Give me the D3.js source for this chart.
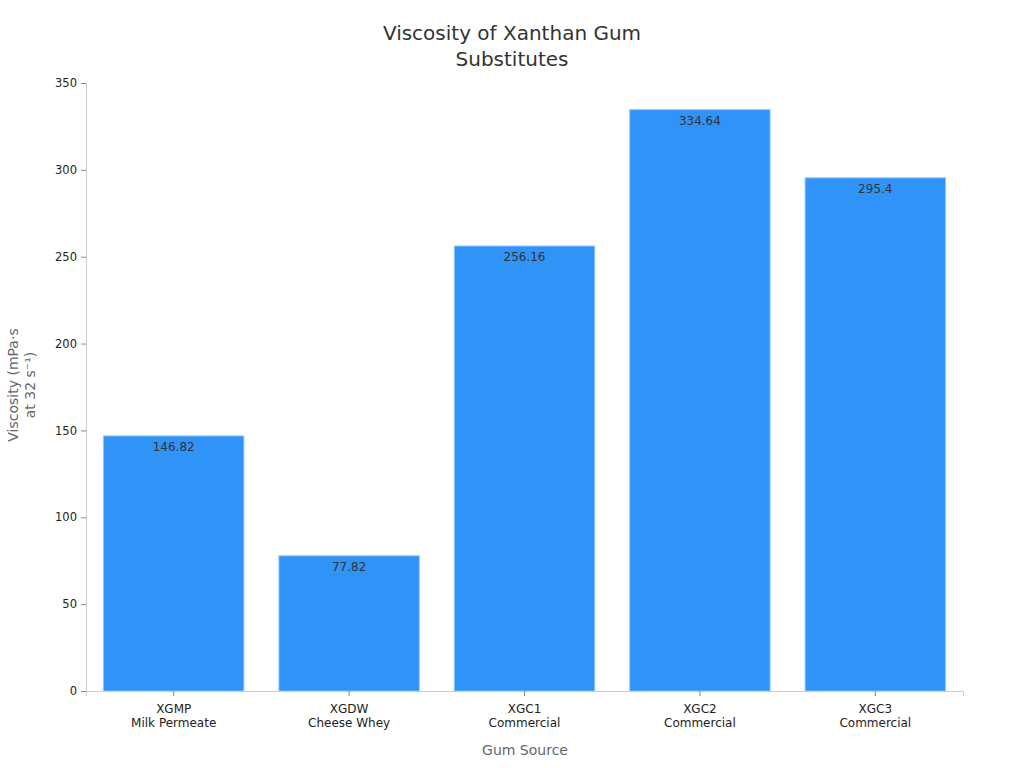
<!DOCTYPE html>
<html><head><meta charset="utf-8">
<script src="https://cdn.jsdelivr.net/npm/d3@7"></script>
<style>body{margin:0;background:#fff;font-family:"DejaVu Sans",sans-serif;}</style>
</head><body><svg id="c" width="1024" height="768"></svg>
<script>
const codes = ["XGMP","XGDW","XGC1","XGC2","XGC3"];
const sources = ["Milk Permeate","Cheese Whey","Commercial","Commercial","Commercial"];
const values = [146.82, 77.82, 256.16, 334.64, 295.4];
const yTicks = [0,50,100,150,200,250,300,350];

const svg = d3.select("#c");
const m = {l:86, r:963, t:83, b:691};
const x = d3.scaleBand().domain(codes).range([m.l, m.r]).paddingInner(0.2).paddingOuter(0.1);
const y = d3.scaleLinear().domain([0,350]).range([m.b, m.t]);

svg.append("g").selectAll("rect").data(values).join("rect")
  .attr("x",(d,i)=>x(codes[i])).attr("width",x.bandwidth())
  .attr("y",d=>y(d)).attr("height",d=>y(0)-y(d))
  .attr("fill","#2f93f8").attr("stroke","#8cc4fb").attr("stroke-width",1);

svg.append("g").selectAll("text").data(values).join("text")
  .attr("x",(d,i)=>x(codes[i])+x.bandwidth()/2).attr("y",d=>y(d)+15)
  .attr("text-anchor","middle").attr("font-size",12).attr("fill","#333")
  .text(d=>d);

const ya = svg.append("g").attr("transform",`translate(${m.l},0)`)
  .call(d3.axisLeft(y).tickValues(yTicks).tickSize(5).tickPadding(4));
ya.select(".domain").attr("stroke","#ccc");
ya.selectAll(".tick line").attr("stroke","#888");
ya.selectAll(".tick text").attr("font-size",11.5).attr("fill","#222").attr("font-family","DejaVu Sans");

const xa = svg.append("g").attr("transform",`translate(0,${m.b})`)
  .call(d3.axisBottom(x).tickSize(5).tickPadding(8));
xa.select(".domain").attr("stroke","#ccc");
xa.selectAll(".tick line").attr("stroke","#888");
xa.selectAll(".tick text").attr("font-size",12).attr("fill","#222").attr("font-family","DejaVu Sans")
  .each(function(d,i){
    const t=d3.select(this); t.text(null);
    t.append("tspan").attr("x",0).attr("dy","0.71em").text(d);
    t.append("tspan").attr("x",0).attr("dy","1.2em").text(sources[i]);
  });

svg.append("text").attr("x",512).attr("y",40).attr("text-anchor","middle")
  .attr("font-size",20).attr("fill","#333").text("Viscosity of Xanthan Gum");
svg.append("text").attr("x",512).attr("y",66).attr("text-anchor","middle")
  .attr("font-size",20).attr("fill","#333").text("Substitutes");

svg.append("text").attr("x",525).attr("y",755).attr("text-anchor","middle")
  .attr("font-size",14).attr("fill","#666").text("Gum Source");

const yl = svg.append("text").attr("transform","translate(18,385) rotate(-90)")
  .attr("text-anchor","middle").attr("font-size",14).attr("fill","#666");
yl.append("tspan").attr("x",0).attr("dy",0).text("Viscosity (mPa·s");
yl.append("tspan").attr("x",0).attr("dy","1.2em").text("at 32 s⁻¹)");
</script></body></html>
